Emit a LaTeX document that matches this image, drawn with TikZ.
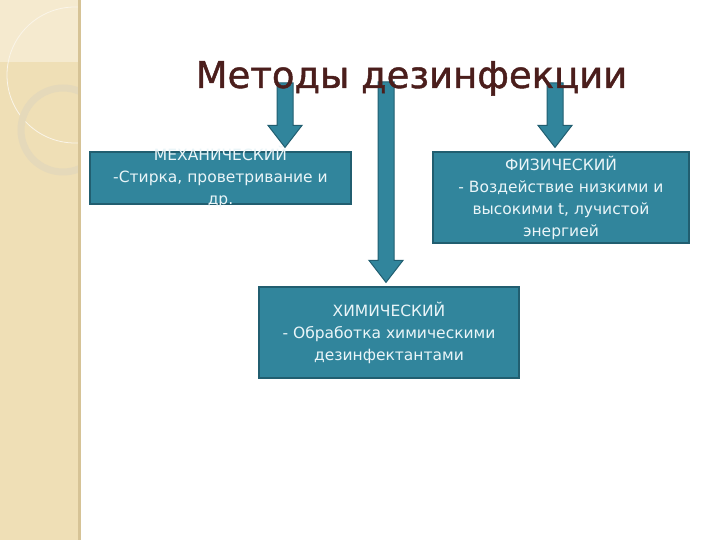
\documentclass[tikz,border=0pt]{standalone}
\usepackage{fontspec}
\setmainfont{DejaVu Sans}
\usepackage{xcolor}
\definecolor{sarcelle}{HTML}{31859C}
\definecolor{sarcelleSombre}{HTML}{215E70}
\definecolor{texteClair}{HTML}{EAF5F8}
\definecolor{titreBrun}{HTML}{4B1E1C}
\definecolor{bandeBeige}{HTML}{EFDFB6}
\definecolor{bandeClaire}{HTML}{F5EACF}
\definecolor{bandeBord}{HTML}{D6C396}
\definecolor{bandeAnneau}{HTML}{E5D9BA}
\usepackage{tikz}
\usetikzlibrary{calc}
\newcommand{\Deborde}[1]{\raisebox{-4pt}[0pt][0pt]{%
  \begin{tabular}{@{}c@{}}#1\end{tabular}}}
\tikzset{
  %% -- Boxes ------------------------------------------------------------
  methode/.style   = {draw=sarcelleSombre, line width=1.2pt, fill=sarcelle,
                      text=texteClair, align=center, inner sep=3pt,
                      font=\fontsize{15.5}{22}\selectfont},
  %% -- Block arrows -----------------------------------------------------
  %% drawn as a closed outline from the start point down to the target
  flecheBloc/.style = {draw=sarcelleSombre, fill=sarcelle, line width=1pt,
      to path={let \p1=(\tikztostart), \p2=(\tikztotarget) in
        (\x1-8pt,\y1) -- (\x1+8pt,\y1) -- (\x1+8pt,\y2+26pt)
        -- (\x1+17pt,\y2+26pt) -- (\x1,\y2+4pt) -- (\x1-17pt,\y2+26pt)
        -- (\x1-8pt,\y2+26pt) -- cycle}},
  %% -- Title ------------------------------------------------------------
  titre/.style     = {font=\fontsize{37}{44}\selectfont\addfontfeature{FakeBold=1.2},
                      text=titreBrun, anchor=base, inner sep=0pt},
}

\begin{document}
\begin{tikzpicture}[x=1pt, y=1pt]

\useasboundingbox (0,0) rectangle (720,540);
\fill[white] (0,0) rectangle (720,540);

%% left band
\fill[bandeBeige] (0,0) rectangle (79,540);
\fill[bandeClaire] (0,478) rectangle (78,540);
\begin{scope}
  \clip (0,0) rectangle (78,540);
  \draw[white!70!bandeBeige, line width=0.8pt] (75,465) circle (68);
  \draw[bandeAnneau, line width=7pt] (63,410) circle (42);
\end{scope}
\fill[bandeBord] (78,0) rectangle (80.5,540);

%% boxes
\node[methode, minimum width=261, minimum height=52] (meca) at (220.5,362)
     {\Deborde{МЕХАНИЧЕСКИЙ\\-Стирка, проветривание и\\др.}};
\node[methode, minimum width=256, minimum height=91] (phys) at (561,342.5)
     {ФИЗИЧЕСКИЙ\\- Воздействие низкими и\\высокими t, лучистой\\энергией};
\node[methode, minimum width=260, minimum height=91] (chim) at (389,207.5)
     {ХИМИЧЕСКИЙ\\- Обработка химическими\\дезинфектантами};

%% arrows from under the title
\coordinate (depMeca) at (285,457);
\coordinate (depChim) at (386,458);
\coordinate (depPhys) at (555,457);
\draw[flecheBloc] (depMeca) to (meca.north -| depMeca);
\draw[flecheBloc] (depChim) to (chim.north -| depChim);
\draw[flecheBloc] (depPhys) to (phys.north -| depPhys);

\node[titre] (title) at (411.5,452) {Методы дезинфекции};

\end{tikzpicture}
\end{document}
